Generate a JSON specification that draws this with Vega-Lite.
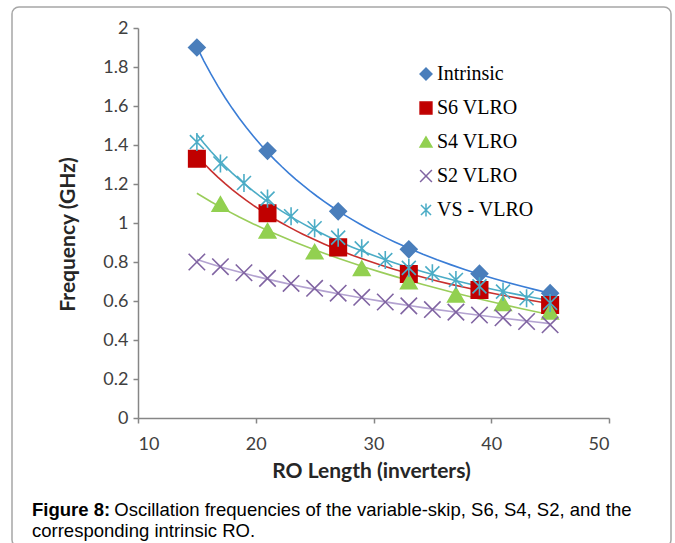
{
  "$schema": "https://vega.github.io/schema/vega-lite/v6.json",
  "width": 659,
  "height": 540,
  "autosize": "none",
  "padding": {"left": 12, "top": 7, "right": 4, "bottom": 0},
  "background": "white",
  "config": {
    "view": {"stroke": "#A6A6A6", "strokeWidth": 1.5, "cornerRadius": 7, "fill": "white"},
    "axis": {
      "grid": false,
      "domainColor": "#868686",
      "domainWidth": 1.5,
      "tickColor": "#868686",
      "tickWidth": 1.5,
      "tickSize": 5,
      "labelFont": "Lato",
      "labelFontSize": 18,
      "labelColor": "#404040",
      "titleFont": "Lato",
      "titleFontSize": 21,
      "titleFontWeight": "bold",
      "titleColor": "#262626"
    }
  },
  "title": {
    "text": "Figure 8:",
    "subtitle": ["\u200b\u00a0\u00a0\u00a0\u00a0\u00a0\u00a0\u00a0\u00a0\u00a0\u00a0\u00a0\u00a0\u00a0\u00a0\u00a0\u00a0Oscillation frequencies of the variable-skip, S6, S4, S2, and the", "corresponding intrinsic RO."],
    "orient": "bottom",
    "anchor": "start",
    "frame": "group",
    "offset": -46,
    "dx": 20,
    "font": "Liberation Sans",
    "fontSize": 18.5,
    "fontWeight": "bold",
    "color": "#000000",
    "subtitleFont": "Liberation Sans",
    "subtitleFontSize": 18.5,
    "subtitleFontWeight": "normal",
    "subtitleColor": "#000000",
    "subtitlePadding": -18.5,
    "subtitleLineHeight": 21
  },
  "data": {
    "values": [
      {"series": "Intrinsic", "len": 15, "freq": 1.90},
      {"series": "Intrinsic", "len": 21, "freq": 1.37},
      {"series": "Intrinsic", "len": 27, "freq": 1.06},
      {"series": "Intrinsic", "len": 33, "freq": 0.865},
      {"series": "Intrinsic", "len": 39, "freq": 0.74},
      {"series": "Intrinsic", "len": 45, "freq": 0.64},
      {"series": "S6 VLRO", "len": 15, "freq": 1.33},
      {"series": "S6 VLRO", "len": 21, "freq": 1.05},
      {"series": "S6 VLRO", "len": 27, "freq": 0.875},
      {"series": "S6 VLRO", "len": 33, "freq": 0.738},
      {"series": "S6 VLRO", "len": 39, "freq": 0.656},
      {"series": "S6 VLRO", "len": 45, "freq": 0.58},
      {"series": "S4 VLRO", "len": 17, "freq": 1.097},
      {"series": "S4 VLRO", "len": 21, "freq": 0.96},
      {"series": "S4 VLRO", "len": 25, "freq": 0.853},
      {"series": "S4 VLRO", "len": 29, "freq": 0.768},
      {"series": "S4 VLRO", "len": 33, "freq": 0.699},
      {"series": "S4 VLRO", "len": 37, "freq": 0.632},
      {"series": "S4 VLRO", "len": 41, "freq": 0.588},
      {"series": "S4 VLRO", "len": 45, "freq": 0.545},
      {"series": "S2 VLRO", "len": 15, "freq": 0.80},
      {"series": "S2 VLRO", "len": 17, "freq": 0.776},
      {"series": "S2 VLRO", "len": 19, "freq": 0.745},
      {"series": "S2 VLRO", "len": 21, "freq": 0.716},
      {"series": "S2 VLRO", "len": 23, "freq": 0.69},
      {"series": "S2 VLRO", "len": 25, "freq": 0.665},
      {"series": "S2 VLRO", "len": 27, "freq": 0.64},
      {"series": "S2 VLRO", "len": 29, "freq": 0.619},
      {"series": "S2 VLRO", "len": 31, "freq": 0.595},
      {"series": "S2 VLRO", "len": 33, "freq": 0.575},
      {"series": "S2 VLRO", "len": 35, "freq": 0.556},
      {"series": "S2 VLRO", "len": 37, "freq": 0.543},
      {"series": "S2 VLRO", "len": 39, "freq": 0.528},
      {"series": "S2 VLRO", "len": 41, "freq": 0.514},
      {"series": "S2 VLRO", "len": 43, "freq": 0.495},
      {"series": "S2 VLRO", "len": 45, "freq": 0.478},
      {"series": "VS - VLRO", "len": 15, "freq": 1.415},
      {"series": "VS - VLRO", "len": 17, "freq": 1.305},
      {"series": "VS - VLRO", "len": 19, "freq": 1.205},
      {"series": "VS - VLRO", "len": 21, "freq": 1.125},
      {"series": "VS - VLRO", "len": 23, "freq": 1.035},
      {"series": "VS - VLRO", "len": 25, "freq": 0.973},
      {"series": "VS - VLRO", "len": 27, "freq": 0.925},
      {"series": "VS - VLRO", "len": 29, "freq": 0.87},
      {"series": "VS - VLRO", "len": 31, "freq": 0.81},
      {"series": "VS - VLRO", "len": 33, "freq": 0.77},
      {"series": "VS - VLRO", "len": 35, "freq": 0.742},
      {"series": "VS - VLRO", "len": 37, "freq": 0.708},
      {"series": "VS - VLRO", "len": 39, "freq": 0.675},
      {"series": "VS - VLRO", "len": 41, "freq": 0.648},
      {"series": "VS - VLRO", "len": 43, "freq": 0.614},
      {"series": "VS - VLRO", "len": 45, "freq": 0.59}
    ]
  },
  "encoding": {
    "x": {
      "field": "len",
      "type": "quantitative",
      "scale": {"domain": [10, 50], "range": [126, 597], "nice": false, "zero": false},
      "axis": {
        "values": [10, 20, 30, 40, 50],
        "offset": -129,
        "labelPadding": 12,
        "title": "RO Length (inverters)",
        "titleX": 359,
        "titleY": 53,
        "titleBaseline": "middle",
        "titleAnchor": null
      }
    },
    "y": {
      "field": "freq",
      "type": "quantitative",
      "scale": {"domain": [0, 2], "range": [411, 21], "nice": false, "zero": true},
      "axis": {
        "values": [0, 0.2, 0.4, 0.6, 0.8, 1, 1.2, 1.4, 1.6, 1.8, 2],
        "format": "~g",
        "offset": -126,
        "labelPadding": 5,
        "title": "Frequency (GHz)",
        "titleX": -70,
        "titleY": 227,
        "titleAngle": -90,
        "titleBaseline": "middle",
        "titleAlign": "center"
      }
    }
  },
  "layer": [
    {
      "transform": [
        {"filter": {"field": "series", "oneOf": ["Intrinsic", "S6 VLRO", "VS - VLRO"]}},
        {"regression": "freq", "on": "len", "groupby": ["series"], "method": "pow", "extent": [15, 45]}
      ],
      "mark": {"type": "line", "strokeWidth": 1.6},
      "encoding": {
        "color": {
          "field": "series",
          "type": "nominal",
          "scale": {"domain": ["VS - VLRO", "S2 VLRO", "S4 VLRO", "S6 VLRO", "Intrinsic"], "range": ["#4BACC6", "#B3A2D0", "#9ACD5A", "#C8302E", "#3A7DD6"]},
          "legend": null
        }
      }
    },
    {
      "transform": [
        {"filter": {"field": "series", "oneOf": ["S4 VLRO", "S2 VLRO"]}},
        {"regression": "freq", "on": "len", "groupby": ["series"], "method": "log", "extent": [15, 45]}
      ],
      "mark": {"type": "line", "strokeWidth": 1.6},
      "encoding": {
        "color": {
          "field": "series",
          "type": "nominal",
          "scale": {"domain": ["VS - VLRO", "S2 VLRO", "S4 VLRO", "S6 VLRO", "Intrinsic"], "range": ["#4BACC6", "#B3A2D0", "#9ACD5A", "#C8302E", "#3A7DD6"]},
          "legend": null
        }
      }
    },
    {
      "mark": {"type": "point", "size": 270, "strokeWidth": 1.6, "opacity": 1},
      "encoding": {
        "shape": {
          "field": "series",
          "type": "nominal",
          "scale": {"domain": ["Intrinsic", "S6 VLRO", "S4 VLRO", "S2 VLRO", "VS - VLRO"], "range": ["diamond", "square", "triangle-up", "M-1,-1L1,1M1,-1L-1,1", "M-0.85,-0.85L0.85,0.85M0.85,-0.85L-0.85,0.85M0,-1.1L0,1.1"]},
          "legend": {"orient": "none", "legendX": 404, "legendY": 57, "title": null, "labelFont": "Liberation Serif", "labelFontSize": 20, "labelColor": "#000000", "symbolSize": 140, "symbolStrokeWidth": 1.5, "rowPadding": 14, "labelOffset": 1, "padding": 0}
        },
        "fill": {
          "field": "series",
          "type": "nominal",
          "scale": {"domain": ["Intrinsic", "S6 VLRO", "S4 VLRO", "S2 VLRO", "VS - VLRO"], "range": ["#4A7EBB", "#C00000", "#92D050", "transparent", "transparent"]},
          "legend": {"orient": "none", "legendX": 404, "legendY": 57, "title": null, "labelFont": "Liberation Serif", "labelFontSize": 20, "labelColor": "#000000", "symbolSize": 140, "symbolStrokeWidth": 1.5, "rowPadding": 14, "labelOffset": 1, "padding": 0}
        },
        "stroke": {
          "field": "series",
          "type": "nominal",
          "scale": {"domain": ["Intrinsic", "S6 VLRO", "S4 VLRO", "S2 VLRO", "VS - VLRO"], "range": ["#4A7EBB", "#C00000", "#92D050", "#8064A2", "#4BACC6"]},
          "legend": {"orient": "none", "legendX": 404, "legendY": 57, "title": null, "labelFont": "Liberation Serif", "labelFontSize": 20, "labelColor": "#000000", "symbolSize": 140, "symbolStrokeWidth": 1.5, "rowPadding": 14, "labelOffset": 1, "padding": 0}
        }
      }
    }
  ]
}
